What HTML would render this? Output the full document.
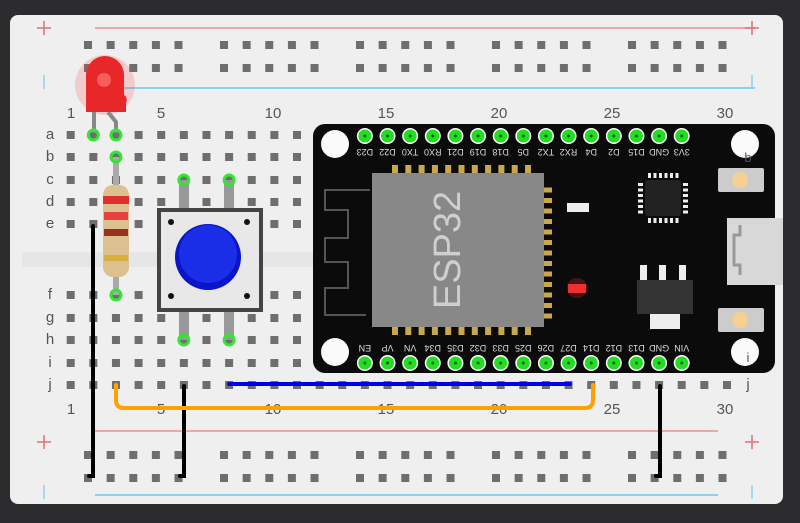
<!DOCTYPE html>
<html><head><meta charset="utf-8"><style>
html,body{margin:0;padding:0;background:#2c2c2e;}
svg{display:block;font-family:"Liberation Sans",sans-serif;}
</style></head><body>
<svg id="s" width="800" height="523" viewBox="0 0 800 523" xmlns="http://www.w3.org/2000/svg">
<rect width="800" height="523" fill="#2c2c2e"/>
<rect x="10" y="15" width="773" height="489" rx="8" fill="#efefef"/>
<rect x="22" y="252" width="300" height="15" fill="#e6e6e6"/>
<line x1="95" y1="28" x2="755" y2="28" stroke="#e89090" stroke-width="1.5"/>
<line x1="95" y1="88" x2="755" y2="88" stroke="#8fd0ee" stroke-width="2"/>
<line x1="95" y1="431" x2="718" y2="431" stroke="#e89090" stroke-width="1.5"/>
<line x1="95" y1="495" x2="718" y2="495" stroke="#8fd0ee" stroke-width="2"/>
<g stroke="#e07070" stroke-width="1.5">
<line x1="37" y1="28" x2="51" y2="28"/><line x1="44" y1="21" x2="44" y2="35"/>
<line x1="745" y1="28" x2="759" y2="28"/><line x1="752" y1="21" x2="752" y2="35"/>
<line x1="37" y1="442" x2="51" y2="442"/><line x1="44" y1="435" x2="44" y2="449"/>
<line x1="745" y1="442" x2="759" y2="442"/><line x1="752" y1="435" x2="752" y2="449"/>
</g>
<g stroke="#8fd0ee" stroke-width="1.5">
<line x1="44" y1="75" x2="44" y2="89"/><line x1="752" y1="75" x2="752" y2="89"/>
<line x1="44" y1="485" x2="44" y2="499"/><line x1="752" y1="485" x2="752" y2="499"/>
</g>
<g id="holes" fill="#6e6e6e"></g>
<g fill="#555" font-size="15" text-anchor="middle">
<text x="71" y="118">1</text><text x="161" y="118">5</text><text x="273" y="118">10</text><text x="386" y="118">15</text><text x="499" y="118">20</text><text x="612" y="118">25</text><text x="725" y="118">30</text>
<text x="71" y="414">1</text><text x="161" y="414">5</text><text x="273" y="414">10</text><text x="386" y="414">15</text><text x="499" y="414">20</text><text x="612" y="414">25</text><text x="725" y="414">30</text>
<text x="50" y="139">a</text><text x="50" y="161">b</text><text x="50" y="184">c</text><text x="50" y="206">d</text><text x="50" y="228">e</text>
<text x="50" y="299">f</text><text x="50" y="322">g</text><text x="50" y="344">h</text><text x="50" y="367">i</text><text x="50" y="389">j</text>
<text x="748" y="389">j</text>
</g>
<rect x="313" y="124" width="462" height="249" rx="12" fill="#0b0b0b"/>
<g fill="#fafafa"><circle cx="335" cy="144" r="14"/><circle cx="335" cy="352" r="14"/><circle cx="745" cy="144" r="14"/><circle cx="745" cy="352" r="14"/></g>
<g fill="#555" font-size="13" text-anchor="middle"><text x="748" y="162">b</text><text x="748" y="362">i</text></g>
<path d="M370 190 H325 V210 H348 V238 H325 V262 H348 V288 H325 V315 H366" fill="none" stroke="#555" stroke-width="2"/>
<g id="pads" fill="#c8a84a"></g>
<rect x="372" y="173" width="172" height="154" fill="#888"/>
<text transform="translate(450,250) rotate(-90)" fill="#cfcfcf" font-size="38" text-anchor="middle" dominant-baseline="middle">ESP32</text>
<rect x="567" y="203" width="22" height="9" fill="#eee"/>
<circle cx="577" cy="288" r="10" fill="#ff3030" opacity="0.25"/>
<rect x="568" y="284" width="18" height="9" fill="#f03030"/>
<g id="ic" fill="#eee"></g>
<rect x="645" y="180" width="36" height="36" rx="3" fill="#222"/>
<rect x="637" y="280" width="56" height="34" fill="#333"/>
<g fill="#eee"><rect x="640" y="265" width="7" height="15"/><rect x="659" y="265" width="7" height="15"/><rect x="679" y="265" width="7" height="15"/><rect x="650" y="314" width="30" height="15"/></g>
<rect x="727" y="218" width="56" height="67" fill="#d8d8d8"/>
<path d="M740 225 v10 h-6 v30 h6 v10" fill="none" stroke="#999" stroke-width="3"/>
<g><rect x="718" y="168" width="46" height="24" rx="2" fill="#ccc"/><circle cx="740" cy="180" r="8" fill="#f5d090"/>
<rect x="718" y="308" width="46" height="24" rx="2" fill="#ccc"/><circle cx="740" cy="320" r="8" fill="#f5d090"/></g>
<g id="pins"></g>
<g fill="#ddd" font-size="9" text-anchor="middle" id="lbl"></g>
<g fill="#999"><rect x="179" y="180" width="10" height="30"/><rect x="224" y="180" width="10" height="30"/><rect x="179" y="310" width="10" height="30"/><rect x="224" y="310" width="10" height="30"/></g>
<rect x="159" y="210" width="102" height="100" fill="#e8e8e8" stroke="#444" stroke-width="4"/>
<circle cx="171" cy="222" r="3" fill="#111"/><circle cx="247" cy="222" r="3" fill="#111"/><circle cx="171" cy="296" r="3" fill="#111"/><circle cx="247" cy="296" r="3" fill="#111"/>
<circle cx="208" cy="257" r="33" fill="#0a14c8"/><circle cx="208" cy="254" r="29" fill="#1a2ee8"/>
<rect x="113" y="157" width="6" height="138" fill="#aaa"/>
<rect x="103" y="185" width="26" height="92" rx="10" fill="#dcc090"/>
<rect x="103" y="196" width="26" height="8" fill="#e03030"/><rect x="104" y="212" width="24" height="8" fill="#e84040"/><rect x="104" y="229" width="24" height="7" fill="#9a3020"/><rect x="104" y="255" width="24" height="6" fill="#d8b040"/>
<circle cx="105" cy="85" r="30" fill="#ff4040" opacity="0.2"/>
<path d="M94 112 V133 M108 112 l8 10 V133" stroke="#888" stroke-width="4" fill="none"/>
<path d="M86 112 V75 a19 19 0 0 1 38 0 V95 a6 6 0 0 1 2 8 V112 Z" fill="#e82828"/>
<circle cx="104" cy="80" r="7" fill="#ff8080" opacity="0.6"/>
<g fill="none" stroke-linecap="round" stroke-width="4">
<path d="M93 226 V476 H89" stroke="#000"/>
<path d="M184 386 V476 H180" stroke="#000"/>
<path d="M660 386 V476 H656" stroke="#000"/>
<path d="M229 384 H570" stroke="#0000e6"/>
<path d="M116 385 V400 q0 8 8 8 H585 q8 0 8 -8 V385" stroke="#ffa200"/>
</g>
<g id="greens"></g>
</svg>
<script>
var NS="http://www.w3.org/2000/svg";
function el(p,t,a){var e=document.createElementNS(NS,t);for(var k in a)e.setAttribute(k,a[k]);document.getElementById(p).appendChild(e);return e;}
function cx(c){return 70.7+(c-1)*22.63;}
var rows=[135,157,180,202,224,295,318,340,363,385];
for(var c=1;c<=30;c++)for(var r=0;r<10;r++)el("holes","rect",{x:cx(c)-4,y:rows[r]-4,width:8,height:8});
[45,68,455,478].forEach(function(y){for(var g=0;g<5;g++)for(var i=0;i<5;i++){var x=88+g*136+i*22.63;el("holes","rect",{x:x-4,y:y-4,width:8,height:8});}});
for(var i=0;i<11;i++){el("pads","rect",{x:395+i*13.3-3,y:165,width:6,height:10});el("pads","rect",{x:395+i*13.3-3,y:325,width:6,height:10});}
for(var i=0;i<13;i++)el("pads","rect",{x:542,y:190+i*10.5-2.5,width:10,height:5});
for(var i=0;i<6;i++){el("ic","rect",{x:648+i*5.5,y:173,width:3,height:5});el("ic","rect",{x:648+i*5.5,y:218,width:3,height:5});el("ic","rect",{x:638,y:183+i*5.5,width:5,height:3});el("ic","rect",{x:683,y:183+i*5.5,width:5,height:3});}
var topL=["D23","D22","TX0","RX0","D21","D19","D18","D5","TX2","RX2","D4","D2","D15","GND","3V3"];
var botL=["EN","VP","VN","D34","D35","D32","D33","D25","D26","D27","D14","D12","D13","GND","VIN"];
for(var i=0;i<15;i++){var x=cx(14+i);
[136,363].forEach(function(y){el("pins","circle",{cx:x,cy:y,r:8,fill:"#fff"});el("pins","circle",{cx:x,cy:y,r:6.5,fill:"#22dd22"});el("pins","circle",{cx:x,cy:y,r:1.5,fill:"#186018"});});
var t=el("lbl","text",{transform:"translate("+x+",149) rotate(180)"});t.textContent=topL[i];
var b=el("lbl","text",{transform:"translate("+x+",345) rotate(180)"});b.textContent=botL[i];}
[[2,0],[3,0],[3,1],[6,2],[8,2],[3,5],[6,7],[8,7]].forEach(function(p){el("greens","circle",{cx:cx(p[0]),cy:rows[p[1]],r:5,fill:"none",stroke:"#33e633","stroke-width":3});});
</script>
</body></html>
